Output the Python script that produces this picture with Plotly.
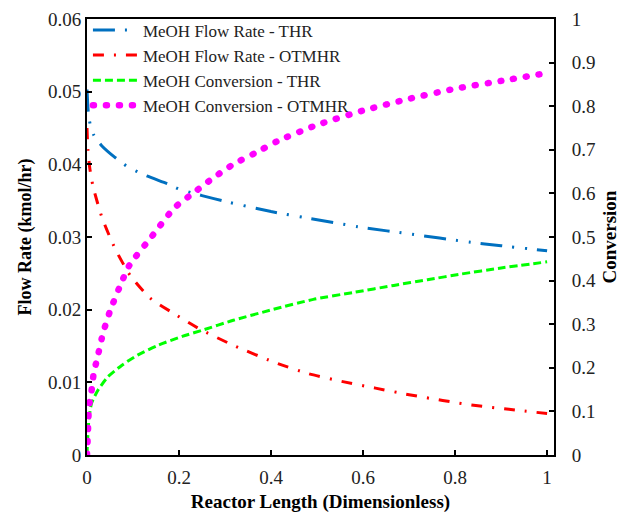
import plotly.graph_objects as go

# ---- data ----
x_thr_flow = [0, 0.003, 0.007, 0.015, 0.033, 0.06, 0.09, 0.13, 0.176, 0.2, 0.25, 0.3, 0.4, 0.48, 0.6, 0.704, 0.83, 0.9, 1.0]
thr_flow = [0.0503, 0.0470, 0.0455, 0.0440, 0.0425, 0.0410, 0.0396, 0.0384, 0.0373, 0.0366, 0.0357, 0.0349, 0.0335, 0.0326, 0.0313, 0.0304, 0.0293, 0.0288, 0.0281]

x_otm_flow = [0, 0.002, 0.006, 0.013, 0.033, 0.061, 0.094, 0.137, 0.188, 0.246, 0.318, 0.414, 0.481, 0.556, 0.627, 0.7, 0.773, 0.845, 0.917, 1.0]
otm_flow = [0.0450, 0.0420, 0.0395, 0.0370, 0.0326, 0.0284, 0.0247, 0.0216, 0.0195, 0.0173, 0.0151, 0.0126, 0.0112, 0.0101, 0.0092, 0.0083, 0.0075, 0.0068, 0.0063, 0.0057]

x_thr_conv = [0, 0.001, 0.004, 0.01, 0.024, 0.045, 0.076, 0.11, 0.155, 0.207, 0.25, 0.318, 0.405, 0.492, 0.58, 0.667, 0.74, 0.813, 0.9, 1.0]
thr_conv = [0, 0.03, 0.08, 0.119, 0.149, 0.179, 0.206, 0.229, 0.252, 0.272, 0.286, 0.309, 0.334, 0.357, 0.373, 0.389, 0.402, 0.415, 0.429, 0.443]

x_otm_conv = [0, 0.001, 0.002, 0.003, 0.004, 0.009, 0.015, 0.022, 0.035, 0.05, 0.07, 0.092, 0.14, 0.19, 0.23, 0.275, 0.32, 0.366, 0.414, 0.5, 0.6, 0.7, 0.8, 0.9, 1.0]
otm_conv = [0, 0.025, 0.053, 0.08, 0.11, 0.14, 0.19, 0.22, 0.28, 0.33, 0.383, 0.435, 0.50, 0.567, 0.60, 0.636, 0.668, 0.693, 0.72, 0.757, 0.79, 0.817, 0.84, 0.858, 0.876]

names = ["MeOH Flow Rate - THR", "MeOH Flow Rate - OTMHR", "MeOH Conversion - THR", "MeOH Conversion - OTMHR"]
x_ticks = [0, 0.2, 0.4, 0.6, 0.8, 1]

FONT = "Liberation Serif, Times New Roman, serif"
SM = 0.6

fig = go.Figure()
fig.add_trace(go.Scatter(x=x_thr_flow, y=thr_flow, name=names[0], mode="lines",
                         line=dict(color="#0070C0", width=3, dash="22px,10px,2px,11px,2px,10px", shape="spline", smoothing=SM)))
fig.add_trace(go.Scatter(x=x_otm_flow, y=otm_flow, name=names[1], mode="lines",
                         line=dict(color="#FF0000", width=3, dash="11px,10px,2px,10px", shape="spline", smoothing=SM)))
fig.add_trace(go.Scatter(x=x_thr_conv, y=thr_conv, name=names[2], mode="lines", yaxis="y2",
                         line=dict(color="#00FF00", width=3, dash="8px,4px", shape="spline", smoothing=SM)))
fig.add_trace(go.Scatter(x=x_otm_conv, y=otm_conv, name=names[3], mode="lines", yaxis="y2",
                         line=dict(color="#FF00FF", width=6.5, dash="1px,12px", shape="spline", smoothing=SM)))

axis_common = dict(showline=True, linecolor="black", linewidth=2, ticks="inside", ticklen=5,
                   tickwidth=1.5, tickcolor="black", showgrid=False, zeroline=False, automargin=False,
                   tickfont=dict(family=FONT, size=19, color="#222"))

fig.update_layout(
    width=631, height=518,
    margin=dict(l=87, r=77, t=16, b=63),
    paper_bgcolor="white", plot_bgcolor="white",
    font=dict(family=FONT, color="black"),
    showlegend=True,
    legend=dict(x=0.002, y=1.015, xanchor="left", yanchor="top", bgcolor="rgba(0,0,0,0)",
                font=dict(family=FONT, size=17, color="#222"), itemwidth=45, tracegroupgap=0),
    xaxis=dict(range=[0, 1.015], tickvals=x_ticks, ticktext=[str(v) for v in x_ticks], mirror=True,
               ticklabelstandoff=4,
               title=dict(text="<b>Reactor Length (Dimensionless)</b>", font=dict(family=FONT, size=19), standoff=8),
               **axis_common),
    yaxis=dict(range=[0, 0.06], dtick=0.01,
               title=dict(text="<b>Flow Rate (kmol/hr)</b>", font=dict(family=FONT, size=18), standoff=12),
               **axis_common),
    yaxis2=dict(range=[0, 1], dtick=0.1, overlaying="y", side="right", ticklabelstandoff=12,
                title=dict(text="<b>Conversion</b>", font=dict(family=FONT, size=19), standoff=8),
                **axis_common),
)

post = """
document.body.style.margin = '0';
document.body.style.padding = '0';
var gd = document.getElementById('{plot_id}');
function roundCaps(){
  document.querySelectorAll('path.js-line').forEach(function(p){
    var s = p.style.stroke || '';
    if (s.indexOf('255, 0, 255') >= 0) { p.style.strokeLinecap = 'round'; }
  });
}
roundCaps();
gd.on('plotly_afterplot', roundCaps);
"""

fig.write_html("out.html", post_script=post, config={"displayModeBar": False})
